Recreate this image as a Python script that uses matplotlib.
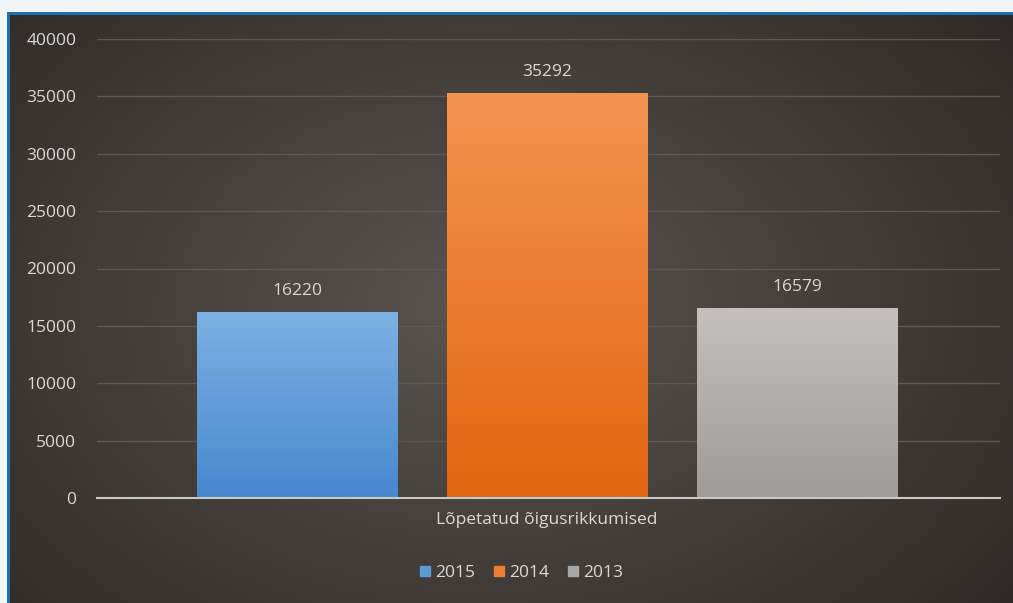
import numpy as np
import matplotlib.pyplot as plt
from matplotlib.patches import Rectangle
from matplotlib.colors import LinearSegmentedColormap

years = ['2015', '2014', '2013']
values = [16220, 35292, 16579]
category = 'Lõpetatud õigusrikkumised'
yticks = [0, 5000, 10000, 15000, 20000, 25000, 30000, 35000, 40000]

top_colors = ['#7db1e3', '#f39450', '#c4c0bf']
bot_colors = ['#4887cf', '#e2650f', '#9f9b9a']
txt = '#d9d9d9'
fs = 12.5

plt.rcParams['font.family'] = ['Open Sans', 'DejaVu Sans']

fig = plt.figure(figsize=(10.13, 6.03), dpi=100)
fig.patch.set_facecolor('#f2f5f8')

# dark background with a soft radial glow
W, H = 1013, 603
bg = fig.add_axes([8 / W, 0, 1 - 8 / W, 1 - 14 / H])
yy, xx = np.mgrid[0:1:300j, 0:1:500j]
r = np.sqrt(((xx - 0.47) / 0.75) ** 2 + ((yy - 0.5) / 0.9) ** 2)
r = np.clip(r, 0, 1)
bg_cmap = LinearSegmentedColormap.from_list('bg', ['#5a544f', '#2f2a27'])
bg.imshow(r, cmap=bg_cmap, aspect='auto', extent=(0, 1, 0, 1), origin='lower')
bg.set_axis_off()

# blue frame lines
fig.add_artist(Rectangle((7 / W, 0), 2.5 / W, 1 - 12 / H, transform=fig.transFigure,
                         color='#1f6db3', lw=0))
fig.add_artist(Rectangle((7 / W, 1 - 14.5 / H), 1, 3 / H, transform=fig.transFigure,
                         color='#1f6db3', lw=0))

ax = fig.add_axes([97 / W, (603 - 498) / H, (1000 - 97) / W, (498 - 39) / H])
ax.patch.set_alpha(0)
x = np.array([-1, 0, 1])
bars = ax.bar(x, values, width=0.8, color=bot_colors, zorder=3)
grad = np.linspace(0, 1, 256).reshape(-1, 1)
for b, c0, c1, yr in zip(bars, bot_colors, top_colors, years):
    cm = LinearSegmentedColormap.from_list('g' + yr, [c0, c1])
    im = ax.imshow(grad, cmap=cm, aspect='auto', origin='lower', zorder=4,
                   extent=(b.get_x(), b.get_x() + b.get_width(), 0, b.get_height()))
    im.set_clip_path(b)
    ax.text(b.get_x() + b.get_width() / 2, b.get_height() + 1100, f'{b.get_height():.0f}',
            ha='center', va='bottom', color=txt, fontsize=fs, zorder=5)

ax.set_xlim(-1.8, 1.81)
ax.set_ylim(0, 40000)
ax.set_yticks(yticks)
ax.set_yticklabels([str(t) for t in yticks], color=txt, fontsize=fs)
ax.tick_params(axis='y', length=0, pad=15)
ax.set_xticks([0])
ax.set_xticklabels([category], color=txt, fontsize=fs)
ax.tick_params(axis='x', length=0, pad=10)
ax.grid(axis='y', color='#5e5853', lw=1, zorder=0)
for s in ['top', 'right', 'left']:
    ax.spines[s].set_visible(False)
ax.spines['bottom'].set_color('#c8c8c8')
ax.spines['bottom'].set_linewidth(1.5)
ax.spines['bottom'].set_zorder(6)

handles = [Rectangle((0, 0), 1, 1, color=c) for c in ['#5b9bd5', '#ed7d31', '#a5a5a5']]
leg = fig.legend(handles, years, loc='center', bbox_to_anchor=(0.515, (603 - 573) / H),
                 ncol=3, frameon=False, handlelength=0.55, handleheight=0.55,
                 handletextpad=0.3, columnspacing=1.1, fontsize=fs)
for t in leg.get_texts():
    t.set_color(txt)

fig.savefig('out.png', dpi=100, facecolor=fig.get_facecolor())
